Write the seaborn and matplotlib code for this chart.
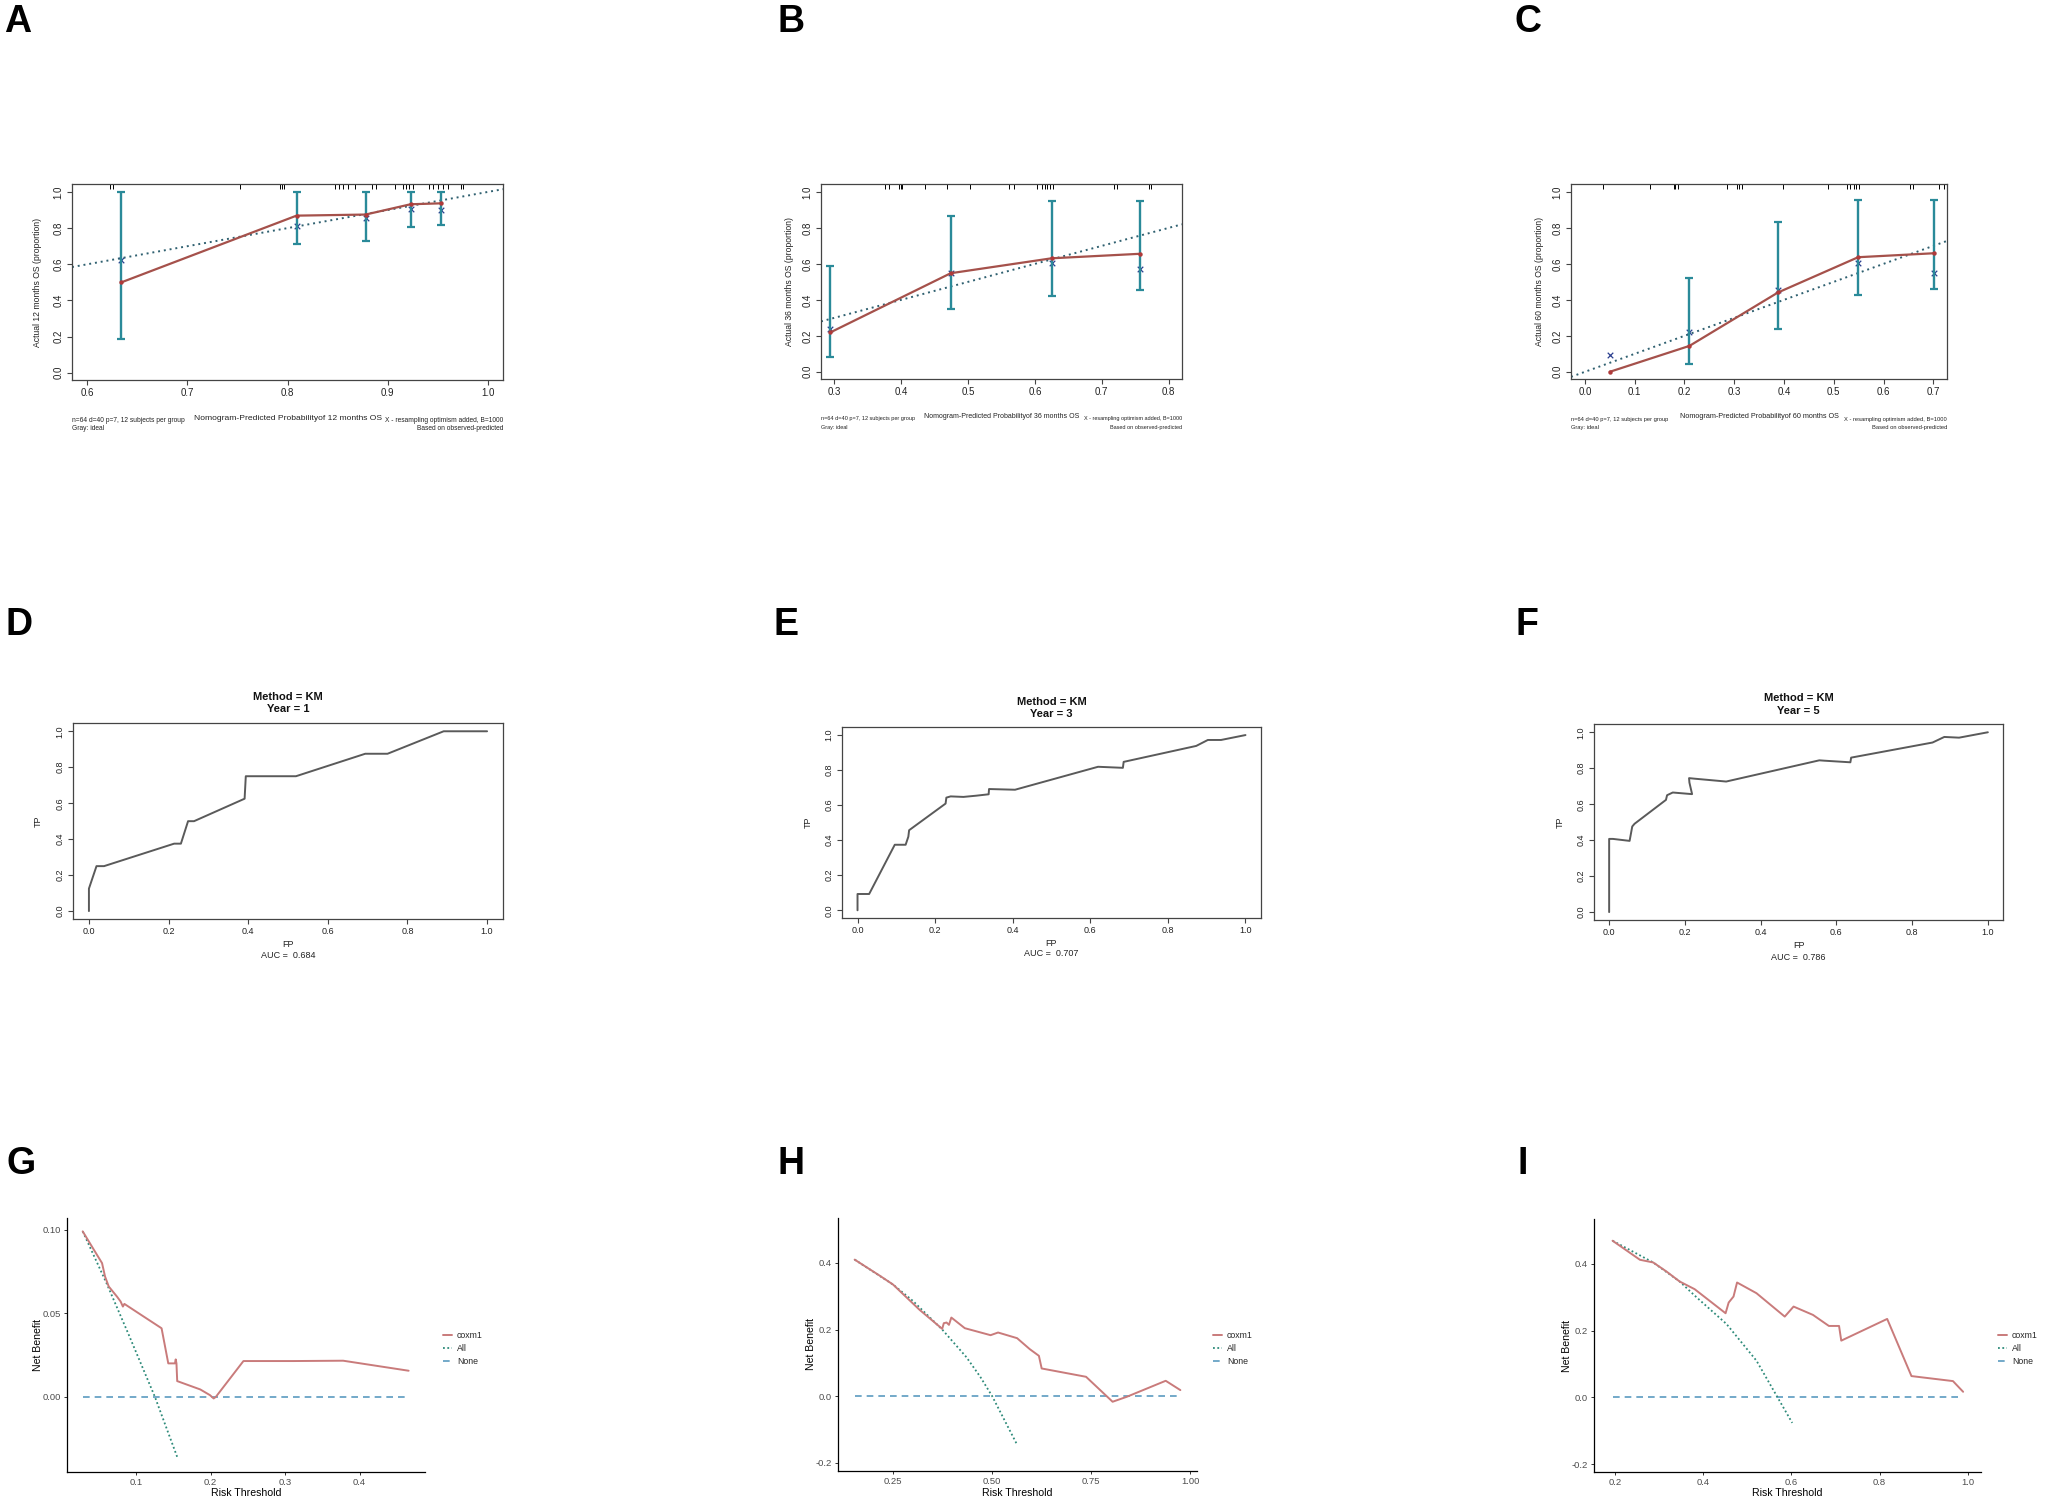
import numpy as np
import matplotlib
matplotlib.use("Agg")
import matplotlib.pyplot as plt
from matplotlib.lines import Line2D
import seaborn as sns

# ---- calibration data (panels A-C) ----
cal12_pred = [0.634, 0.809, 0.878, 0.923, 0.953]
cal12_obs = [0.500, 0.869, 0.875, 0.932, 0.937]
cal12_corr = [0.624, 0.812, 0.854, 0.906, 0.900]
cal12_lo = [0.188, 0.712, 0.731, 0.804, 0.817]
cal12_hi = [1.0, 1.0, 1.0, 1.0, 1.0]
cal12_rug = [0.623, 0.626, 0.753, 0.793, 0.795, 0.797, 0.847, 0.851, 0.855,
             0.860, 0.867, 0.884, 0.888, 0.907, 0.915, 0.918, 0.921, 0.925,
             0.941, 0.945, 0.950, 0.955, 0.960, 0.973, 0.975]

cal36_pred = [0.294, 0.474, 0.625, 0.757]
cal36_obs = [0.219, 0.548, 0.631, 0.656]
cal36_corr = [0.237, 0.550, 0.607, 0.569]
cal36_lo = [0.080, 0.350, 0.424, 0.457]
cal36_hi = [0.589, 0.867, 0.950, 0.952]
cal36_rug = [0.376, 0.381, 0.396, 0.399, 0.401, 0.436, 0.469, 0.503, 0.561,
             0.568, 0.603, 0.610, 0.615, 0.618, 0.623, 0.627, 0.718, 0.723,
             0.770, 0.774]

cal60_pred = [0.050, 0.210, 0.388, 0.549, 0.701]
cal60_obs = [0.000, 0.144, 0.441, 0.637, 0.659]
cal60_corr = [0.094, 0.224, 0.456, 0.607, 0.550]
cal60_lo = [np.nan, 0.041, 0.237, 0.428, 0.459]
cal60_hi = [np.nan, 0.524, 0.831, 0.954, 0.956]
cal60_rug = [0.036, 0.131, 0.178, 0.182, 0.187, 0.286, 0.306, 0.310, 0.315,
             0.399, 0.489, 0.526, 0.533, 0.540, 0.545, 0.550, 0.654, 0.660,
             0.711, 0.721]

# ---- ROC data (panels D-F) ----
roc1_fp = [0.0, 0.0, 0.019, 0.038, 0.214, 0.231, 0.249, 0.264, 0.391, 0.394,
           0.52, 0.694, 0.75, 0.891, 1.0]
roc1_tp = [0.0, 0.125, 0.25, 0.25, 0.375, 0.375, 0.5, 0.5, 0.625, 0.75,
           0.75, 0.875, 0.875, 1.0, 1.0]

roc3_fp = [0.0, 0.0, 0.030, 0.096, 0.124, 0.131, 0.133, 0.227, 0.229, 0.240,
           0.273, 0.306, 0.338, 0.339, 0.406, 0.620, 0.684, 0.686, 0.873,
           0.903, 0.937, 1.0]
roc3_tp = [0.0, 0.093, 0.093, 0.374, 0.374, 0.42, 0.457, 0.609, 0.643, 0.650,
           0.647, 0.654, 0.662, 0.692, 0.688, 0.819, 0.813, 0.847, 0.938,
           0.972, 0.972, 1.0]

roc5_fp = [0.0, 0.0, 0.010, 0.054, 0.061, 0.067, 0.150, 0.153, 0.168, 0.219,
           0.212, 0.211, 0.225, 0.309, 0.555, 0.568, 0.637, 0.639, 0.854,
           0.885, 0.924, 1.0]
roc5_tp = [0.0, 0.407, 0.407, 0.396, 0.476, 0.491, 0.624, 0.650, 0.665, 0.656,
           0.72, 0.745, 0.742, 0.726, 0.844, 0.842, 0.833, 0.859, 0.943,
           0.974, 0.970, 1.0]

roc_auc = ["0.684", "0.707", "0.786"]
roc_year = [1, 3, 5]

# ---- decision curve data (panels G-I) ----
dca1_x = [0.028, 0.043, 0.054, 0.058, 0.063, 0.074, 0.079, 0.082, 0.084, 0.110,
          0.132, 0.134, 0.143, 0.152, 0.153, 0.154, 0.155, 0.186, 0.199, 0.204,
          0.207, 0.244, 0.311, 0.378, 0.466]
dca1_y = [0.099, 0.088, 0.080, 0.072, 0.066, 0.060, 0.057, 0.054, 0.0556, 0.048,
          0.0416, 0.041, 0.020, 0.020, 0.0224, 0.020, 0.0094, 0.0044, 0.001, -0.001,
          0.0, 0.0214, 0.0214, 0.0216, 0.0156]
dca1_all_x = [0.028, 0.060, 0.090, 0.125, 0.155]
dca1_all_y = [0.099, 0.068, 0.037, 0.0, -0.036]

dca3_x = [0.153, 0.216, 0.250, 0.317, 0.374, 0.378, 0.385, 0.391, 0.397, 0.431,
          0.496, 0.515, 0.563, 0.595, 0.618, 0.625, 0.737, 0.804, 0.840, 0.938,
          0.975]
dca3_y = [0.410, 0.362, 0.335, 0.259, 0.202, 0.219, 0.221, 0.214, 0.236, 0.204,
          0.183, 0.191, 0.174, 0.141, 0.121, 0.083, 0.058, -0.017, -0.002, 0.046,
          0.018]
dca3_all_x = [0.153, 0.250, 0.300, 0.374, 0.435, 0.470, 0.500, 0.563]
dca3_all_y = [0.410, 0.335, 0.286, 0.200, 0.117, 0.058, 0.0, -0.146]

dca5_x = [0.195, 0.257, 0.287, 0.317, 0.347, 0.381, 0.451, 0.458, 0.469, 0.477,
          0.521, 0.585, 0.605, 0.649, 0.685, 0.708, 0.713, 0.817, 0.872, 0.966,
          0.989]
dca5_y = [0.469, 0.412, 0.404, 0.377, 0.347, 0.324, 0.252, 0.284, 0.302, 0.344,
          0.312, 0.242, 0.272, 0.247, 0.214, 0.214, 0.170, 0.235, 0.064, 0.049,
          0.017]
dca5_all_x = [0.195, 0.287, 0.347, 0.385, 0.453, 0.521, 0.568, 0.602]
dca5_all_y = [0.469, 0.404, 0.347, 0.300, 0.220, 0.110, 0.002, -0.076]

sns.set_theme(style="white")
plt.rcParams['font.family'] = ['Liberation Sans', 'DejaVu Sans']

W, H = 2048, 1507
fig = plt.figure(figsize=(W / 100, H / 100), dpi=100)
fig.patch.set_facecolor("white")


def box(l, t, r, b):
    return [l / W, 1 - b / H, (r - l) / W, (b - t) / H]


def fx(x):
    return x / W


def fy(y):
    return 1 - y / H


def r_style(ax, tsize):
    for s in ax.spines.values():
        s.set_visible(True)
        s.set_color("#444444")
        s.set_linewidth(0.9)
    ax.tick_params(direction="out", length=3.5, width=0.8, color="#444444",
                   labelsize=tsize, labelcolor="#222222", pad=2.5,
                   bottom=True, left=True)
    ax.tick_params(axis="y", labelrotation=90)
    for lab in ax.get_yticklabels():
        lab.set_va("center")
    ax.set_xlabel("")
    ax.set_ylabel("")


# ---------- calibration panels ----------
# last item: text scale of the panel (B and C were pasted in smaller)
cal_sets = [
    (box(72, 184, 503, 380), cal12_pred, cal12_obs, cal12_corr, cal12_lo, cal12_hi,
     cal12_rug, (0.5847, 1.0153), [0.6, 0.7, 0.8, 0.9, 1.0], 12, 37, 420, 1.0),
    (box(821, 184, 1182, 379), cal36_pred, cal36_obs, cal36_corr, cal36_lo, cal36_hi,
     cal36_rug, (0.280, 0.820), [0.3, 0.4, 0.5, 0.6, 0.7, 0.8], 36, 790, 418.5, 0.83),
    (box(1571, 184, 1947, 379), cal60_pred, cal60_obs, cal60_corr, cal60_lo, cal60_hi,
     cal60_rug, (-0.028, 0.7276), [0.0, 0.1, 0.2, 0.3, 0.4, 0.5, 0.6, 0.7], 60, 1540, 419, 0.86),
]
for rect, pred, obs, corr, lo, hi, rug, xlim, xt, months, ylx, fty, k in cal_sets:
    ax = fig.add_axes(rect)
    ax.set_facecolor("white")
    ax.axline((0, 0), slope=1, color="#2F6070", lw=1.4, linestyle=(0, (1, 2)))
    lo_a, hi_a = np.array(lo), np.array(hi)
    mid = (lo_a + hi_a) / 2
    ax.errorbar(pred, mid, yerr=[mid - lo_a, hi_a - mid], fmt="none",
                ecolor="#2A8A99", elinewidth=1.7, capsize=2.8, capthick=1.6)
    sns.lineplot(x=pred, y=obs, ax=ax, color="#A5514B", lw=1.6, sort=False,
                 estimator=None, marker="o", markersize=3.2,
                 markeredgewidth=0, markerfacecolor="#B03A3A")
    sns.scatterplot(x=pred, y=corr, ax=ax, marker="x", color="#2B3F8F",
                    s=16, linewidth=0.9)
    ax.vlines(rug, 0.972, 1.0, transform=ax.get_xaxis_transform(),
              color="black", lw=0.7)
    ax.set_xlim(*xlim)
    ax.set_ylim(-0.04, 1.044)
    ax.set_xticks(xt)
    ax.set_xticklabels([f"{v:.1f}" for v in xt])
    ax.set_yticks([0, 0.2, 0.4, 0.6, 0.8, 1.0])
    ax.set_yticklabels(["0.0", "0.2", "0.4", "0.6", "0.8", "1.0"])
    r_style(ax, 7)
    l = rect[0] * W
    r = (rect[0] + rect[2]) * W
    yc = (1 - rect[1] - rect[3] / 2) * H
    fig.text(fx(ylx), fy(yc), f"Actual {months} months OS (proportion)",
             rotation=90, ha="center", va="center", fontsize=6.2, color="#222222")
    fig.text(fx((l + r) / 2), fy(fty - 2), f"Nomogram-Predicted Probabilityof {months} months OS",
             ha="center", va="center", fontsize=6.1 * k, color="#222222")
    fs = 4.8 * k
    fig.text(fx(l), fy(fty), "n=64 d=40 p=7, 12 subjects per group",
             ha="left", va="center", fontsize=fs, color="#222222")
    fig.text(fx(l), fy(fty + 8.5), "Gray: ideal",
             ha="left", va="center", fontsize=fs, color="#222222")
    fig.text(fx(r), fy(fty), "X - resampling optimism added, B=1000",
             ha="right", va="center", fontsize=fs, color="#222222")
    fig.text(fx(r), fy(fty + 8.5), "Based on observed-predicted",
             ha="right", va="center", fontsize=fs, color="#222222")

# ---------- ROC panels ----------
roc_sets = [
    (box(73, 723, 503, 919), roc1_fp, roc1_tp, 697, 945, 38),
    (box(842, 727, 1261, 918), roc3_fp, roc3_tp, 702, 943, 808),
    (box(1594, 724, 2003, 920), roc5_fp, roc5_tp, 698.5, 946, 1560),
]
for i, (rect, fp, tp, tty, fpy, tpx) in enumerate(roc_sets):
    ax = fig.add_axes(rect)
    ax.set_facecolor("white")
    sns.lineplot(x=fp, y=tp, ax=ax, color="#5A5A5A", lw=1.4, sort=False,
                 estimator=None)
    ax.set_xlim(-0.04, 1.04)
    ax.set_ylim(-0.044, 1.046)
    ticks = [0, 0.2, 0.4, 0.6, 0.8, 1.0]
    labs = ["0.0", "0.2", "0.4", "0.6", "0.8", "1.0"]
    ax.set_xticks(ticks)
    ax.set_xticklabels(labs)
    ax.set_yticks(ticks)
    ax.set_yticklabels(labs)
    r_style(ax, 6.5)
    l = rect[0] * W
    r = (rect[0] + rect[2]) * W
    cx = (l + r) / 2
    yc = (1 - rect[1] - rect[3] / 2) * H
    fig.text(fx(cx), fy(tty), "Method = KM", ha="center", va="center",
             fontsize=8, fontweight="bold", color="#111111")
    fig.text(fx(cx), fy(tty + 12), f"Year = {roc_year[i]}", ha="center", va="center",
             fontsize=8, fontweight="bold", color="#111111")
    fig.text(fx(cx), fy(fpy), "FP", ha="center", va="center", fontsize=6.5,
             color="#222222")
    fig.text(fx(cx), fy(fpy + 11), f"AUC =  {roc_auc[i]}", ha="center", va="center",
             fontsize=6.5, color="#222222")
    fig.text(fx(tpx), fy(yc), "TP", rotation=90, ha="center", va="center",
             fontsize=6.5, color="#222222")

# ---------- decision curve panels ----------
c_cox, c_all, c_none = "#C97B7B", "#2E8B7A", "#5B9BC0"
ls_all, ls_none = (0, (1, 1.4)), (0, (4, 3))
dca_sets = [
    (box(67, 1218, 425, 1472), dca1_x, dca1_y, dca1_all_x, dca1_all_y,
     (0.0069, 0.488), (-0.045, 0.107), [0.1, 0.2, 0.3, 0.4], ["0.1", "0.2", "0.3", "0.4"],
     [0.0, 0.05, 0.10], ["0.00", "0.05", "0.10"], 38, 443),
    (box(838, 1218, 1197, 1471), dca3_x, dca3_y, dca3_all_x, dca3_all_y,
     (0.111, 1.017), (-0.225, 0.535), [0.25, 0.5, 0.75, 1.0], ["0.25", "0.50", "0.75", "1.00"],
     [-0.2, 0.0, 0.2, 0.4], ["-0.2", "0.0", "0.2", "0.4"], 811, 1213),
    (box(1594, 1219, 1981, 1472), dca5_x, dca5_y, dca5_all_x, dca5_all_y,
     (0.153, 1.0295), (-0.223, 0.534), [0.2, 0.4, 0.6, 0.8, 1.0], ["0.2", "0.4", "0.6", "0.8", "1.0"],
     [-0.2, 0.0, 0.2, 0.4], ["-0.2", "0.0", "0.2", "0.4"], 1567, 1998),
]
for rect, x, y, ax_x, ax_y, xlim, ylim, xt, xtl, yt, ytl, nbx, legx in dca_sets:
    ax = fig.add_axes(rect)
    ax.set_facecolor("white")
    none_x = [min(x), max(x)]
    none_y = [0.0, 0.0]
    sns.lineplot(x=none_x, y=none_y, ax=ax, color=c_none, lw=1.2,
                 linestyle=ls_none, estimator=None, sort=False)
    sns.lineplot(x=ax_x, y=ax_y, ax=ax, color=c_all, lw=1.3,
                 linestyle=ls_all, estimator=None, sort=False)
    sns.lineplot(x=x, y=y, ax=ax, color=c_cox, lw=1.4, estimator=None, sort=False)
    ax.set_xlim(*xlim)
    ax.set_ylim(*ylim)
    ax.set_xticks(xt)
    ax.set_xticklabels(xtl)
    ax.set_yticks(yt)
    ax.set_yticklabels(ytl)
    for side in ["top", "right"]:
        ax.spines[side].set_visible(False)
    for side in ["left", "bottom"]:
        ax.spines[side].set_visible(True)
        ax.spines[side].set_color("black")
        ax.spines[side].set_linewidth(0.9)
    ax.tick_params(direction="out", length=2.5, width=0.7, color="#333333",
                   labelsize=6.8, labelcolor="#4D4D4D", pad=2,
                   bottom=True, left=True)
    ax.set_xlabel("")
    ax.set_ylabel("")
    l = rect[0] * W
    r = (rect[0] + rect[2]) * W
    yc = (1 - rect[1] - rect[3] / 2) * H
    fig.text(fx(nbx), fy(yc), "Net Benefit", rotation=90, ha="center", va="center",
             fontsize=7.6, color="black")
    fig.text(fx((l + r) / 2), fy(1493), "Risk Threshold", ha="center", va="center",
             fontsize=7.6, color="black")
    handles = [Line2D([], [], color=c_cox, lw=1.4),
               Line2D([], [], color=c_all, lw=1.3, linestyle=ls_all),
               Line2D([], [], color=c_none, lw=1.2, linestyle=ls_none)]
    fig.legend(handles, ["coxm1", "All", "None"], loc="center left",
               bbox_to_anchor=(fx(legx), fy(1348.5)), frameon=False, fontsize=6.3,
               handlelength=1.0, handletextpad=0.6, labelspacing=0.45,
               borderpad=0, borderaxespad=0)

# ---------- panel letters ----------
letters = ["A", "B", "C", "D", "E", "F", "G", "H", "I"]
letter_x = [4, 778, 1515, 6, 773, 1515, 6, 777, 1518]
letter_y = [4, 4, 4, 607, 607, 607, 1146, 1146, 1146]
for lt, lx, ly in zip(letters, letter_x, letter_y):
    fig.text(fx(lx), fy(ly), lt, ha="left", va="top", fontsize=27,
             fontweight="bold", color="black")

fig.savefig("out.png", dpi=100, facecolor="white")
